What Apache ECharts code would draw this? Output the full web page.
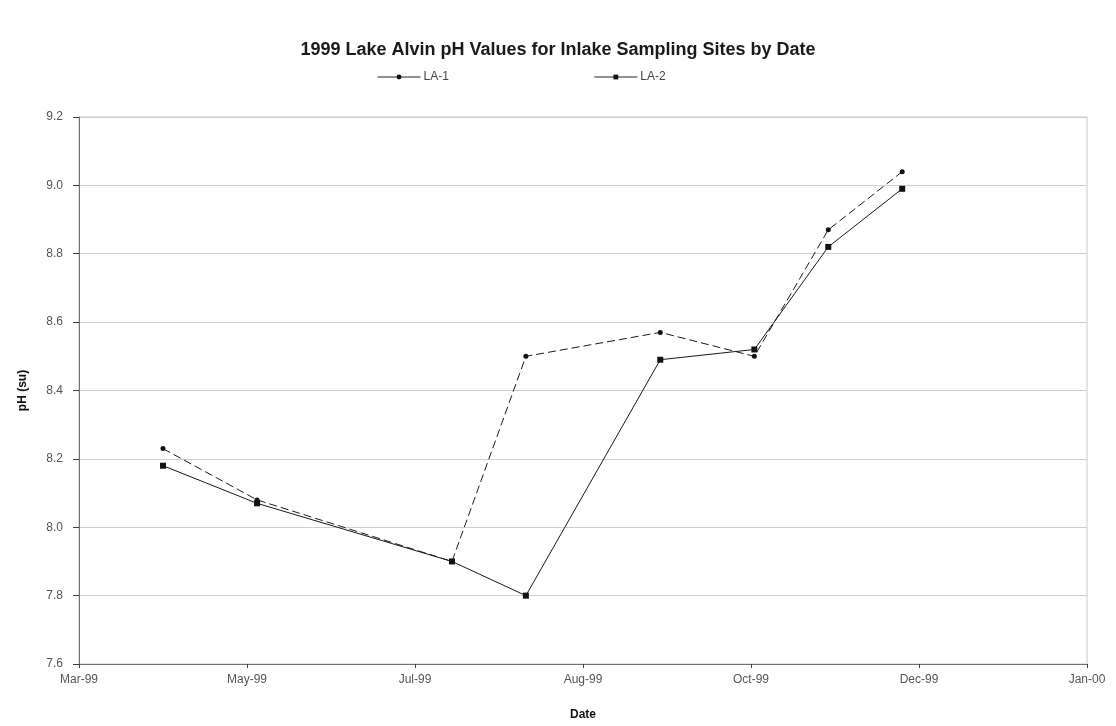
<!DOCTYPE html>
<html>
<head>
<meta charset="utf-8">
<script src="https://cdn.jsdelivr.net/npm/echarts@6/dist/echarts.min.js"></script>
<style>
  html, body { margin: 0; padding: 0; background: #fff; }
  #chart { width: 1116px; height: 726px; }
</style>
</head>
<body>
<div id="chart"></div>
<script>
// Sampling dates (same for both sites) and pH readings in standard units
const sampleDates = ['1999-04-25', '1999-05-23', '1999-07-20', '1999-08-11',
                     '1999-09-20', '1999-10-18', '1999-11-09', '1999-12-01'];
const la1 = [8.23, 8.08, 7.90, 8.50, 8.57, 8.50, 8.87, 9.04];
const la2 = [8.18, 8.07, 7.90, 7.80, 8.49, 8.52, 8.82, 8.99];

// Date axis expressed as spreadsheet serial days (1899-12-30 = day 0)
const axisStart = '1999-03-31';
const axisEnd = '2000-01-25';
const axisStepDays = 50;
const monthNames = ['Jan', 'Feb', 'Mar', 'Apr', 'May', 'Jun',
                    'Jul', 'Aug', 'Sep', 'Oct', 'Nov', 'Dec'];

const EPOCH = Date.UTC(1899, 11, 30);
function toSerial(s) {
  const [y, m, d] = s.split('-').map(Number);
  return Math.round((Date.UTC(y, m - 1, d) - EPOCH) / 86400000);
}
function serialLabel(v) {
  const dt = new Date(EPOCH + v * 86400000);
  const yy = String(dt.getUTCFullYear() % 100).padStart(2, '0');
  return monthNames[dt.getUTCMonth()] + '-' + yy;
}

const FONT = '"Liberation Sans", Arial, sans-serif';
const ink = '#111111';

const chart = echarts.init(document.getElementById('chart'), null, { renderer: 'canvas' });
chart.setOption({
  backgroundColor: '#ffffff',
  animation: false,
  title: {
    text: '1999 Lake Alvin pH Values for Inlake Sampling Sites by Date',
    left: 'center',
    top: 36,
    textStyle: { fontFamily: FONT, fontSize: 18, fontWeight: 'bold', color: '#1a1a1a' }
  },
  legend: {
    left: 372,
    top: 66,
    itemWidth: 43,
    itemHeight: 6,
    itemGap: 145,
    lineStyle: { type: 'solid', width: 1, color: '#222' },
    textStyle: { fontFamily: FONT, fontSize: 12, color: '#444', padding: [0, 0, 0, -2] },
    data: ['LA-1', 'LA-2']
  },
  grid: {
    left: 79, right: 29, top: 117, bottom: 61,
    show: true, borderColor: '#c8c8c8', borderWidth: 1
  },
  xAxis: {
    type: 'value',
    min: toSerial(axisStart),
    max: toSerial(axisEnd),
    interval: axisStepDays,
    name: 'Date',
    nameLocation: 'middle',
    nameGap: 45,
    nameTextStyle: { fontFamily: FONT, fontSize: 12, fontWeight: 'bold', color: '#111' },
    axisLine: { show: true, lineStyle: { color: '#707070', width: 1 } },
    axisTick: { show: true, inside: false, length: 4, lineStyle: { color: '#404040' } },
    axisLabel: { fontFamily: FONT, fontSize: 12, color: '#555', margin: 10, formatter: serialLabel },
    splitLine: { show: false }
  },
  yAxis: {
    type: 'value',
    min: 7.6,
    max: 9.2,
    interval: 0.2,
    name: 'pH (su)',
    nameLocation: 'middle',
    nameGap: 50,
    nameTextStyle: { fontFamily: FONT, fontSize: 12, fontWeight: 'bold', color: '#111' },
    axisLine: { show: true, lineStyle: { color: '#707070', width: 1 } },
    axisTick: { show: true, inside: false, length: 6, lineStyle: { color: '#404040' } },
    axisLabel: { fontFamily: FONT, fontSize: 12, color: '#555', margin: 16,
                 formatter: v => v.toFixed(1) },
    splitLine: { show: true, lineStyle: { color: '#cfcfcf', width: 1 } }
  },
  series: [
    {
      name: 'LA-1',
      type: 'line',
      data: sampleDates.map((d, i) => [toSerial(d), la1[i]]),
      symbol: 'circle',
      symbolSize: 5,
      itemStyle: { color: ink },
      lineStyle: { color: '#1a1a1a', width: 1, type: [8, 4] },
      z: 3
    },
    {
      name: 'LA-2',
      type: 'line',
      data: sampleDates.map((d, i) => [toSerial(d), la2[i]]),
      symbol: 'rect',
      symbolSize: 6,
      itemStyle: { color: ink },
      lineStyle: { color: '#1a1a1a', width: 1, type: 'solid' },
      z: 2
    }
  ]
});
</script>
</body>
</html>
